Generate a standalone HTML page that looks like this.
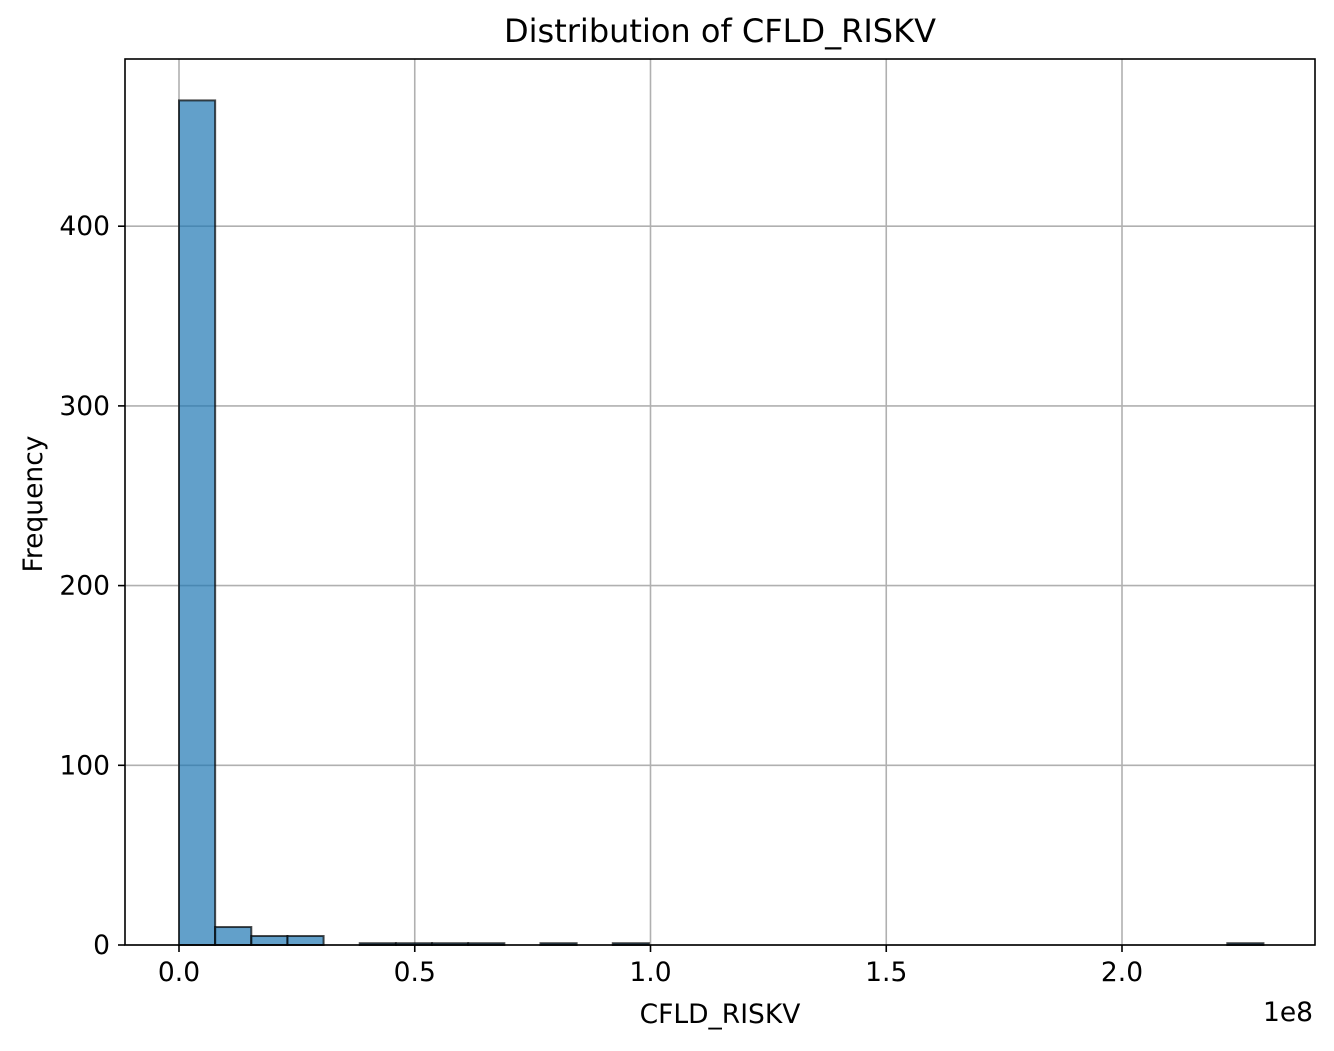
<!DOCTYPE html>
<html><head><meta charset="utf-8"><style>
body{margin:0;background:#fff}
svg text{font-family:"DejaVu Sans","Liberation Sans",sans-serif;fill:#000}
</style></head><body>
<svg id="chart" width="1334" height="1046">
<rect x="0" y="0" width="1334" height="1046" fill="#fff"/>
<g id="grid"></g><g id="bars"></g><g id="axes"></g>
<text x="720" y="42" text-anchor="middle" font-size="32">Distribution of CFLD_RISKV</text>
<text x="720" y="1023" text-anchor="middle" font-size="26.5">CFLD_RISKV</text>
<text x="42" y="504" text-anchor="middle" font-size="26.5" transform="rotate(-90 42 504)">Frequency</text>
<text x="1313" y="1021" text-anchor="end" font-size="26.5">1e8</text>
</svg>
<script>
const counts=[470,10,5,5,0,1,1,1,1,0,1,0,1,0,0,0,0,0,0,0,0,0,0,0,0,0,0,0,0,1];
const binStart=0, binEnd=2.3;
const xTicks=[0,0.5,1.0,1.5,2.0];
const xTickLabels=["0.0","0.5","1.0","1.5","2.0"];
const yTicks=[0,100,200,300,400];
const L=125,R=1315,T=59,B=945;
const xs=v=>179+v*471.5;
const ys=v=>945-v*1.797;
const ns="http://www.w3.org/2000/svg";
function mk(t,a,p){const e=document.createElementNS(ns,t);for(const k in a)e.setAttribute(k,a[k]);p.appendChild(e);return e;}
const grid=document.getElementById('grid'),bars=document.getElementById('bars'),axes=document.getElementById('axes');
xTicks.forEach((v,i)=>{
 const x=xs(v);
 const g=mk('line',{x1:x,x2:x,y1:T,y2:B,stroke:'#b0b0b0','stroke-width':1.6},grid);
 
 
 mk('line',{x1:x,x2:x,y1:B,y2:B+7,stroke:'#000','stroke-width':1.6},axes);
 const t=mk('text',{x:x,y:B+36,'text-anchor':'middle','font-size':26.5},axes);
 t.textContent=xTickLabels[i];
 
 
});
yTicks.forEach(v=>{
 const y=ys(v);
 const g=mk('line',{x1:L,x2:R,y1:y,y2:y,stroke:'#b0b0b0','stroke-width':1.6},grid);
 
 
 mk('line',{x1:L-7,x2:L,y1:y,y2:y,stroke:'#000','stroke-width':1.6},axes);
 const t=mk('text',{x:L-15,y:y+9,'text-anchor':'end','font-size':26.5},axes);
 t.textContent=String(v);
 
 
});
const w=(binEnd-binStart)/counts.length;
counts.forEach((c,i)=>{
 const x0=xs(binStart+i*w),x1=xs(binStart+(i+1)*w);
 const r=mk('rect',{x:x0,y:ys(c),width:x1-x0,height:B-ys(c),fill:'#1f77b4','fill-opacity':0.7,stroke:'#000','stroke-opacity':0.7,'stroke-width':2},bars);
 
 
});
const f=mk('rect',{x:L,y:T,width:R-L,height:B-T,fill:'none',stroke:'#000','stroke-width':1.6},axes);


</script>
</body></html>
